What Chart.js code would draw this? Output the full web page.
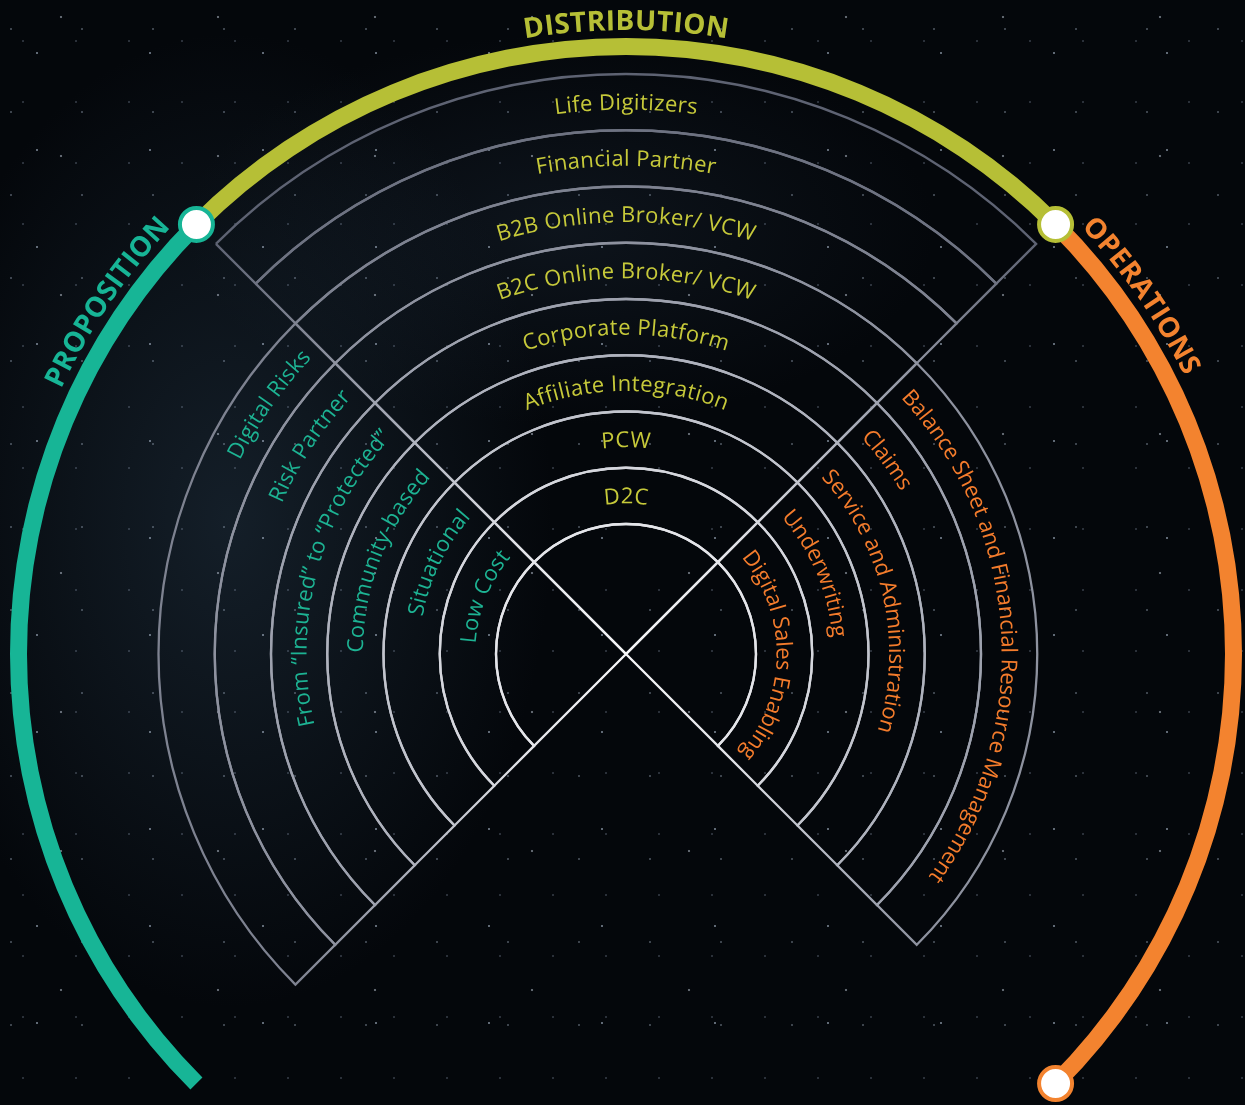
<!DOCTYPE html>
<html>
<head>
<meta charset="utf-8">
<script src="https://cdn.jsdelivr.net/npm/chart.js@4.4.1/dist/chart.umd.min.js"></script>
<style>
  html, body { margin: 0; padding: 0; overflow: hidden; }
  body {
    width: 1245px;
    height: 1105px;
    background-color: #04070b;
    background-image:
      radial-gradient(circle at 37px 53px, rgba(190,205,225,.5) 0.7px, rgba(0,0,0,0) 1.5px),
      radial-gradient(circle at 11px 29px, rgba(170,185,205,.4) 0.6px, rgba(0,0,0,0) 1.3px),
      radial-gradient(circle at 61px 17px, rgba(210,220,235,.45) 0.8px, rgba(0,0,0,0) 1.6px),
      radial-gradient(circle at 23px 41px, rgba(160,175,200,.3) 0.6px, rgba(0,0,0,0) 1.2px),
      radial-gradient(ellipse 430px 650px at 230px 520px, rgba(36,54,70,.5), rgba(0,0,0,0) 75%),
      radial-gradient(ellipse 500px 260px at 560px 230px, rgba(28,40,54,.4), rgba(0,0,0,0) 75%);
    background-size: 113px 97px, 71px 83px, 157px 139px, 53px 61px, 100% 100%, 100% 100%;
  }
  #wheel { position: absolute; left: 0; top: 0; }
</style>
</head>
<body>
<canvas id="wheel" width="1245" height="1105"></canvas>
<script>
// slices go clockwise from the upper-right diagonal
const sectors = ["Operations", "", "Proposition", "Distribution"];
const sectorShare = [1, 1, 1, 1];
const titles = ["OPERATIONS", "", "PROPOSITION", "DISTRIBUTION"];

// ring labels, inner ring first
const distribution = [
  "D2C",
  "PCW",
  "Affiliate Integration",
  "Corporate Platform",
  "B2C Online Broker/ VCW",
  "B2B Online Broker/ VCW",
  "Financial Partner",
  "Life Digitizers",
];
const proposition = [
  "Low Cost",
  "Situational",
  "Community-based",
  "From \u201CInsured\u201D to \u201CProtected\u201D",
  "Risk Partner",
  "Digital Risks",
];
const operations = [
  "Digital Sales Enabling",
  "Underwriting",
  "Service and Administration",
  "Claims",
  "Balance Sheet and Financial Resource Management",
];

const sectorLabels = [operations, [], proposition, distribution];
const ringCount = Math.max(distribution.length, proposition.length, operations.length);

// styles
const bandColors = ["#f3832f", "rgba(0,0,0,0)", "#17b596", "#b6bf36"];
const textColors = ["#f47c2c", "", "#1db393", "#c6c93a"];
const textAlign = ["start", "", "end", "center"];
const letterGap = [-0.15, 0, 0.3, 0.35];
const labelFont = "22px 'Open Sans'";
const titleFont = "bold 28px 'Open Sans'";

var gradCache = null;
function lineGradient(chart) {
  var a = chart.chartArea;
  if (!a) return "#9a9ea8";
  if (gradCache) return gradCache;
  var cx = (a.left + a.right) / 2;
  var cy = (a.top + a.bottom) / 2;
  var g = chart.ctx.createRadialGradient(cx, cy, 0, cx, cy, 590);
  g.addColorStop(0, "#f6f6f8");
  g.addColorStop(0.25, "#e2e3e8");
  g.addColorStop(0.55, "#a6aab6");
  g.addColorStop(1, "#5b6070");
  gradCache = g;
  return g;
}

var datasets = [];
datasets.push({
  label: "bands",
  data: sectorShare,
  weight: 17,
  backgroundColor: bandColors,
  borderWidth: 0,
});
datasets.push({
  label: "gap",
  data: sectorShare,
  weight: 19,
  backgroundColor: "rgba(0,0,0,0)",
  borderWidth: 0,
});
for (let ring = ringCount; ring >= 0; ring--) {
  datasets.push({
    label: "ring" + ring,
    ring: ring,
    data: sectorShare,
    weight: ring === 0 ? 130 : 56.25,
    backgroundColor: "rgba(0,0,0,0)",
    borderWidth: 2.3,
    borderJoinStyle: "miter",
    borderColor: function (c) {
      var n = sectorLabels[c.dataIndex].length;
      return n >= Math.max(ring, 1) ? lineGradient(c.chart) : "rgba(0,0,0,0)";
    },
  });
}

function arcText(ctx, text, cx, cy, r, angle, align, pad, spacing) {
  // text runs clockwise, letter tops pointing away from the centre
  var total = ctx.measureText(text).width + spacing * (text.length - 1);
  var start;
  if (align === "center") start = angle - total / r / 2;
  else if (align === "end") start = angle - (total + pad) / r;
  else start = angle + pad / r;
  for (var i = 0; i < text.length; i++) {
    var x0 = ctx.measureText(text.slice(0, i)).width;
    var x1 = ctx.measureText(text.slice(0, i + 1)).width;
    var a = start + ((x0 + x1) / 2 + spacing * i) / r;
    ctx.save();
    ctx.translate(cx + r * Math.cos(a), cy + r * Math.sin(a));
    ctx.rotate(a + Math.PI / 2);
    ctx.fillText(text[i], 0, 0);
    ctx.restore();
  }
}

const wheelText = {
  id: "wheelText",
  afterDatasetsDraw(chart) {
    var ctx = chart.ctx;
    ctx.save();
    ctx.textAlign = "center";
    ctx.textBaseline = "alphabetic";

    // ring labels
    ctx.font = labelFont;
    chart.data.datasets.forEach(function (ds, di) {
      if (!ds.ring) return;
      chart.getDatasetMeta(di).data.forEach(function (arc, si) {
        var text = sectorLabels[si][ds.ring - 1];
        if (!text) return;
        var p = arc.getProps(["x", "y", "startAngle", "endAngle", "innerRadius", "outerRadius"], true);
        var r = (p.innerRadius + p.outerRadius) / 2 - 22 * 0.34;
        var angle = textAlign[si] === "end" ? p.endAngle : textAlign[si] === "start" ? p.startAngle : (p.startAngle + p.endAngle) / 2;
        ctx.fillStyle = textColors[si];
        arcText(ctx, text, p.x, p.y, r, angle, textAlign[si], 13, letterGap[si]);
      });
    });

    // coloured bands: titles and end markers
    var bands = chart.getDatasetMeta(0).data;
    ctx.font = titleFont;
    bands.forEach(function (arc, si) {
      if (!titles[si]) return;
      var p = arc.getProps(["x", "y", "startAngle", "endAngle", "innerRadius", "outerRadius"], true);
      var angle = textAlign[si] === "end" ? p.endAngle : textAlign[si] === "start" ? p.startAngle : (p.startAngle + p.endAngle) / 2;
      ctx.fillStyle = bandColors[si];
      arcText(ctx, titles[si], p.x, p.y, p.outerRadius + 18 - 28 * 0.36, angle, textAlign[si], 20, 0.3);
    });
    bands.forEach(function (arc, si) {
      if (!titles[si]) return;
      var p = arc.getProps(["x", "y", "endAngle", "innerRadius", "outerRadius"], true);
      var r = (p.innerRadius + p.outerRadius) / 2;
      ctx.beginPath();
      ctx.arc(p.x + r * Math.cos(p.endAngle), p.y + r * Math.sin(p.endAngle), 16.5, 0, Math.PI * 2);
      ctx.fillStyle = "#ffffff";
      ctx.fill();
      ctx.lineWidth = 4;
      ctx.strokeStyle = bandColors[si];
      ctx.stroke();
    });
    ctx.restore();
  },
};

var ctx = document.getElementById("wheel").getContext("2d");
var wheel = new Chart(ctx, {
  type: "doughnut",
  data: {
    labels: sectors,
    datasets: datasets,
  },
  options: {
    responsive: false,
    animation: false,
    events: [],
    cutout: 0,
    radius: 616,
    rotation: 45,
    circumference: 360,
    layout: {
      padding: { left: 7, top: 203, right: 0, bottom: 0 },
    },
    plugins: {
      legend: { display: false },
      tooltip: { enabled: false },
    },
  },
  plugins: [wheelText],
});
</script>
</body>
</html>
